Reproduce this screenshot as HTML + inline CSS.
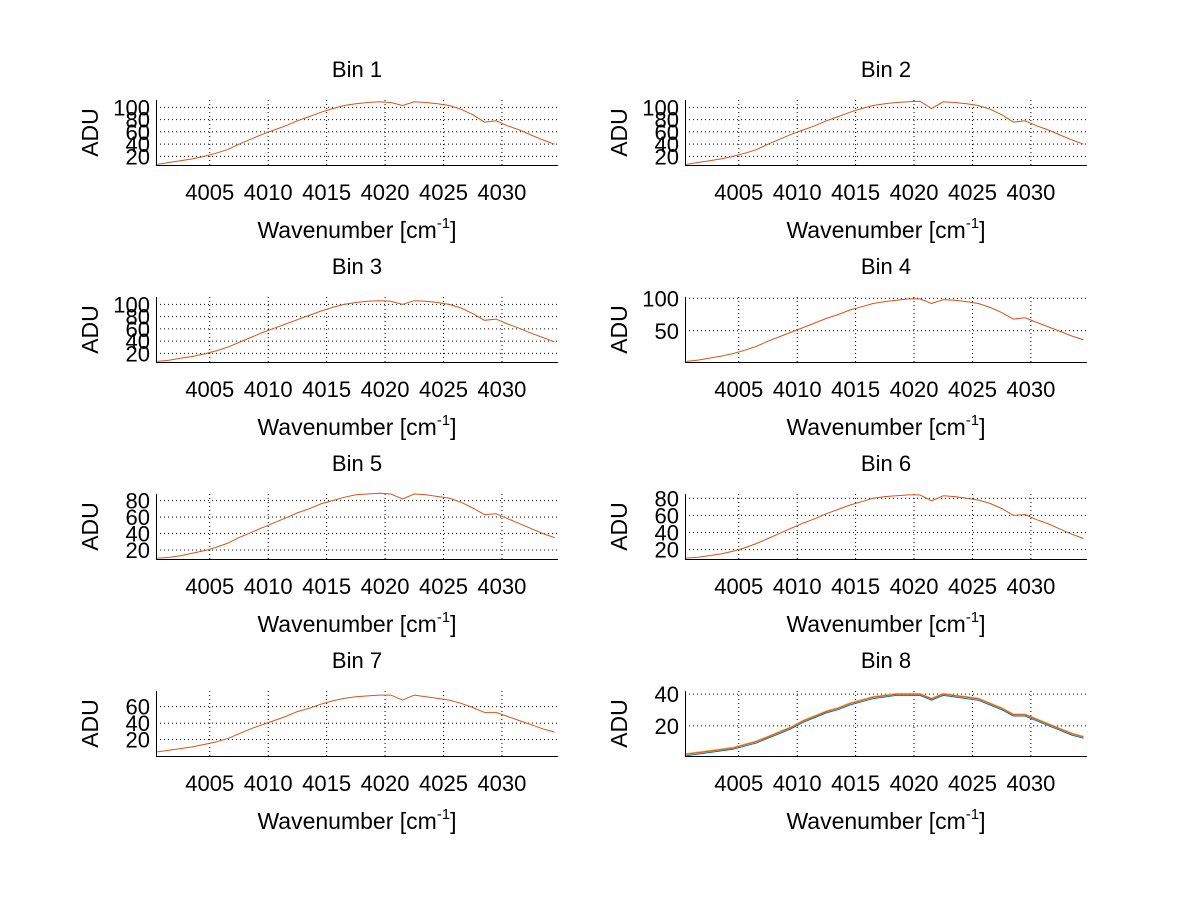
<!DOCTYPE html>
<html><head><meta charset="utf-8"><style>
body{margin:0;background:#fff;width:1200px;height:901px;overflow:hidden}
svg text{font-family:"Liberation Sans",sans-serif;fill:#000}
</style></head><body>
<svg id="fig" width="1200" height="901" xmlns="http://www.w3.org/2000/svg"></svg>
<script>
const xValues=[4000.5,4001.5,4002.5,4003.5,4004.5,4005.5,4006.5,4007.5,4008.5,4009.5,4010.5,4011.5,4012.5,4013.5,4014.5,4015.5,4016.5,4017.5,4018.5,4019.5,4020.5,4021.5,4022.5,4023.5,4024.5,4025.5,4026.5,4027.5,4028.5,4029.5,4030.5,4031.5,4032.5,4033.5,4034.5];
const bin1=[7,10,13,16,20,25,31,40,48,56,63,70,78,85,92,98,103,106,108,109,108,103,109,108,106,103,97,88,76,78,70,63,55,47,40];
const bin2=[7,10,13,16,20,25,31,40,48,56,63,70,78,85,92,98,103,106,108,109,110,98,109,108,106,103,97,88,76,78,70,63,55,47,40];
const bin3=[7,9,12,15,19,24,30,38,46,54,61,68,75,82,89,95,100,103,105,106,105,100,106,105,103,100,94,85,74,76,68,61,53,46,39];
const bin4=[3,5,8,11,15,20,26,34,41,48,55,62,69,75,82,87,92,95,97,99,99,92,98,97,95,92,86,78,68,70,63,56,49,42,36];
const bin5=[10,11,13,16,19,23,28,35,41,47,53,59,65,70,76,80,84,87,88,89,88,82,88,87,85,83,78,71,63,64,58,52,46,40,35];
const bin6=[10,11,13,15,18,22,27,33,39,45,51,56,62,67,72,76,80,82,83,84,84,77,83,82,80,78,74,68,60,61,55,50,44,38,33];
const bin7=[5,7,9,11,14,17,21,27,33,38,43,48,54,58,63,67,70,72,73,74,74,68,74,72,70,68,64,59,53,53,48,43,38,33,29];
const bin8=[2,3,4,5,6,8,10,13,16,19,23,26,29,31,34,36,38,39,40,40,40,37,40,39,38,37,34,31,27,27,24,21,18,15,13];
const binSeries=[bin1,bin2,bin3,bin4,bin5,bin6,bin7,bin8];
const yRanges=[[6,112],[6,112],[6,112],[2,102],[9,88],[9,85],[0,79],[1,42]];
const yTicks=[[20,40,60,80,100],[20,40,60,80,100],[20,40,60,80,100],[50,100],[20,40,60,80],[20,40,60,80],[20,40,60],[20,40]];
const xTicks=[4005,4010,4015,4020,4025,4030];
const titles=["Bin 1","Bin 2","Bin 3","Bin 4","Bin 5","Bin 6","Bin 7","Bin 8"];
const xMin=4000.4,xMax=4034.8;

const NS="http://www.w3.org/2000/svg";
const svg=document.getElementById('fig');
function mk(tag,attrs,parent){const e=document.createElementNS(NS,tag);for(const k in attrs)e.setAttribute(k,attrs[k]);(parent||svg).appendChild(e);return e;}
const cols=[[156,558],[685,1087]];
const rowTops=[100,297,494,691];
const H=65;
binSeries.forEach((data,b)=>{
  const c=b%2,r=Math.floor(b/2);
  const L=cols[c][0],R=cols[c][1],T=rowTops[r],B=T+H;
  const [y0,y1]=yRanges[b];
  const sx=v=>L+(v-xMin)/(xMax-xMin)*(R-L);
  const sy=v=>B-(v-y0)/(y1-y0)*H;
  const g=mk('g',{});
  
  
  xTicks.forEach(t=>{
    const x=sx(t);
    const gl=mk('line',{x1:x,x2:x,y1:T,y2:B,stroke:'#000','stroke-width':1,'stroke-dasharray':'1,3'},g);
    
    
    const tl=mk('text',{x:x,y:B+35,'font-size':22,'text-anchor':'middle'},g);
    tl.textContent=t;
    
    
  });
  yTicks[b].forEach(t=>{
    const y=sy(t);
    const gl=mk('line',{x1:L,x2:R,y1:y,y2:y,stroke:'#000','stroke-width':1,'stroke-dasharray':'1,3'},g);
    
    
    const tl=mk('text',{x:L-6,y:y+8,'font-size':22,'text-anchor':'end'},g);
    tl.textContent=t;
    
    
  });
  const pts=d=>d.map((v,i)=>sx(xValues[i]).toFixed(1)+','+sy(v).toFixed(1)).join(' ');
  if(b===7){
    const bl=mk('polyline',{points:pts(data.map(v=>v-0.8)),fill:'none',stroke:'#0072bd','stroke-width':1},g);
    
    
    const yl=mk('polyline',{points:pts(data.map(v=>v+0.5)),fill:'none',stroke:'#edb120','stroke-width':1},g);
    
    
  }
  const ln=mk('polyline',{points:pts(data),fill:'none',stroke:'#d95319','stroke-width':1},g);
  
  
  const ax=mk('path',{d:`M${L+0.5},${T} L${L+0.5},${B+0.5} L${R},${B+0.5}`,fill:'none',stroke:'#000','stroke-width':1},g);
  
  
  const ti=mk('text',{x:(L+R)/2,y:T-23,'font-size':22,'text-anchor':'middle'},g);
  ti.textContent=titles[b];
  
  
  const xl=mk('text',{x:(L+R)/2,y:B+73,'font-size':23,'text-anchor':'middle'},g);
  xl.innerHTML='Wavenumber [cm<tspan dy="-10" font-size="15">-1</tspan><tspan dy="10">]</tspan>';
  
  
  const yc=(T+B)/2;
  const yl2=mk('text',{x:0,y:0,'font-size':23,'text-anchor':'middle',transform:`translate(${L-58},${yc}) rotate(-90)`},g);
  yl2.textContent='ADU';
  
  
});
</script>
</body></html>
